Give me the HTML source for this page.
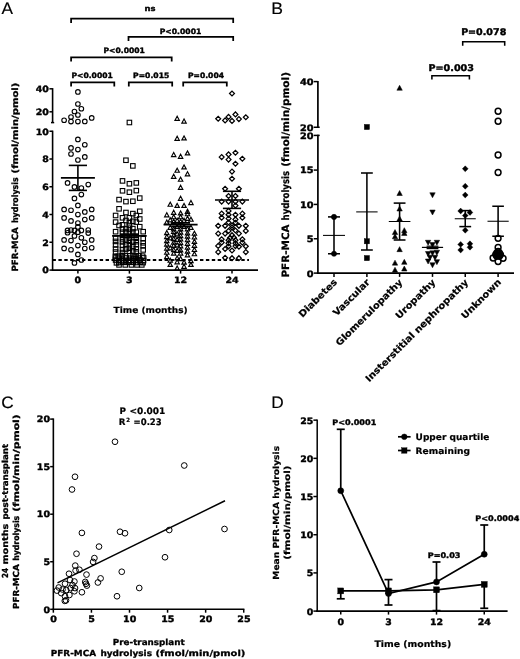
<!DOCTYPE html>
<html lang="en">
<head>
<meta charset="utf-8">
<title>PFR-MCA hydrolysis figure</title>
<style>
html,body{margin:0;padding:0;background:#fff;}
body{width:520px;height:659px;overflow:hidden;}
svg{display:block;font-family:"DejaVu Sans", "Liberation Sans", sans-serif;}
svg text{fill:#000;text-rendering:geometricPrecision;}
svg line, svg path, svg circle, svg rect{stroke:#000;}
</style>
</head>
<body>
<svg width="520" height="659" viewBox="0 0 520 659">
<rect x="0" y="0" width="520" height="659" fill="#fff" stroke="none" style="stroke:none"/>
<g id="panelA">
<text transform="translate(1.40 13.50) scale(1.0400 1)" font-size="16.6" text-anchor="start" font-weight="normal" font-family='"Liberation Sans", sans-serif' stroke="#000" stroke-width="0.15" stroke-linejoin="round">A</text>
<path d="M71.1 22.9V18.7H233.2V22.9" stroke-width="1.75" fill="none"/>
<text transform="translate(150.10 11.40) scale(1.1372 1)" font-size="7.4" text-anchor="middle" font-weight="bold" stroke="#000" stroke-width="0.4" stroke-linejoin="round">ns</text>
<path d="M128.5 41.1V36.9H233.2V41.1" stroke-width="1.75" fill="none"/>
<text transform="translate(180.50 33.60) scale(1.0354 1)" font-size="7.4" text-anchor="middle" font-weight="bold" stroke="#000" stroke-width="0.4" stroke-linejoin="round">P&lt;0.0001</text>
<path d="M71.1 61.5V57.3H171.7V61.5" stroke-width="1.75" fill="none"/>
<text transform="translate(124.20 52.80) scale(1.0304 1)" font-size="7.4" text-anchor="middle" font-weight="bold" stroke="#000" stroke-width="0.4" stroke-linejoin="round">P&lt;0.0001</text>
<path d="M71.1 86.5V82.3H114.3V86.5" stroke-width="1.75" fill="none"/>
<text transform="translate(92.10 78.20) scale(1.0304 1)" font-size="7.4" text-anchor="middle" font-weight="bold" stroke="#000" stroke-width="0.4" stroke-linejoin="round">P&lt;0.0001</text>
<path d="M128.8 86.5V82.3H172.2V86.5" stroke-width="1.75" fill="none"/>
<text transform="translate(151.20 78.20) scale(1.0334 1)" font-size="7.4" text-anchor="middle" font-weight="bold" stroke="#000" stroke-width="0.4" stroke-linejoin="round">P=0.015</text>
<path d="M183.2 86.5V82.3H226.8V86.5" stroke-width="1.75" fill="none"/>
<text transform="translate(206.00 78.20) scale(1.0305 1)" font-size="7.4" text-anchor="middle" font-weight="bold" stroke="#000" stroke-width="0.4" stroke-linejoin="round">P=0.004</text>
<line x1="52.60" y1="88.10" x2="52.60" y2="123.00" stroke-width="1.6"/>
<line x1="52.60" y1="130.60" x2="52.60" y2="270.90" stroke-width="1.6"/>
<line x1="49.40" y1="88.80" x2="52.60" y2="88.80" stroke-width="1.5"/>
<line x1="49.40" y1="111.80" x2="52.60" y2="111.80" stroke-width="1.5"/>
<line x1="51.00" y1="122.60" x2="54.20" y2="122.60" stroke-width="1.5"/>
<line x1="49.40" y1="270.10" x2="52.60" y2="270.10" stroke-width="1.5"/>
<line x1="49.40" y1="242.25" x2="52.60" y2="242.25" stroke-width="1.5"/>
<line x1="49.40" y1="214.50" x2="52.60" y2="214.50" stroke-width="1.5"/>
<line x1="49.40" y1="186.75" x2="52.60" y2="186.75" stroke-width="1.5"/>
<line x1="49.40" y1="159.00" x2="52.60" y2="159.00" stroke-width="1.5"/>
<line x1="49.40" y1="131.25" x2="52.60" y2="131.25" stroke-width="1.5"/>
<line x1="51.80" y1="270.10" x2="258.00" y2="270.10" stroke-width="1.6"/>
<line x1="77.90" y1="270.10" x2="77.90" y2="273.60" stroke-width="1.5"/>
<line x1="129.40" y1="270.10" x2="129.40" y2="273.60" stroke-width="1.5"/>
<line x1="180.60" y1="270.10" x2="180.60" y2="273.60" stroke-width="1.5"/>
<line x1="232.00" y1="270.10" x2="232.00" y2="273.60" stroke-width="1.5"/>
<text transform="translate(48.90 92.20) scale(1.0900 1)" font-size="8.7" text-anchor="end" font-weight="bold" stroke="#000" stroke-width="0.4" stroke-linejoin="round">40</text>
<text transform="translate(48.90 115.20) scale(1.0900 1)" font-size="8.7" text-anchor="end" font-weight="bold" stroke="#000" stroke-width="0.4" stroke-linejoin="round">20</text>
<text transform="translate(48.90 273.40) scale(1.0900 1)" font-size="8.7" text-anchor="end" font-weight="bold" stroke="#000" stroke-width="0.4" stroke-linejoin="round">0</text>
<text transform="translate(48.90 245.65) scale(1.0900 1)" font-size="8.7" text-anchor="end" font-weight="bold" stroke="#000" stroke-width="0.4" stroke-linejoin="round">2</text>
<text transform="translate(48.90 217.90) scale(1.0900 1)" font-size="8.7" text-anchor="end" font-weight="bold" stroke="#000" stroke-width="0.4" stroke-linejoin="round">4</text>
<text transform="translate(48.90 190.15) scale(1.0900 1)" font-size="8.7" text-anchor="end" font-weight="bold" stroke="#000" stroke-width="0.4" stroke-linejoin="round">6</text>
<text transform="translate(48.90 162.40) scale(1.0900 1)" font-size="8.7" text-anchor="end" font-weight="bold" stroke="#000" stroke-width="0.4" stroke-linejoin="round">8</text>
<text transform="translate(48.90 134.65) scale(1.0900 1)" font-size="8.7" text-anchor="end" font-weight="bold" stroke="#000" stroke-width="0.4" stroke-linejoin="round">10</text>
<text transform="translate(77.90 282.70) scale(1.0900 1)" font-size="8.7" text-anchor="middle" font-weight="bold" stroke="#000" stroke-width="0.4" stroke-linejoin="round">0</text>
<text transform="translate(129.40 282.70) scale(1.0900 1)" font-size="8.7" text-anchor="middle" font-weight="bold" stroke="#000" stroke-width="0.4" stroke-linejoin="round">3</text>
<text transform="translate(180.60 282.70) scale(1.0900 1)" font-size="8.7" text-anchor="middle" font-weight="bold" stroke="#000" stroke-width="0.4" stroke-linejoin="round">12</text>
<text transform="translate(232.00 282.70) scale(1.0900 1)" font-size="8.7" text-anchor="middle" font-weight="bold" stroke="#000" stroke-width="0.4" stroke-linejoin="round">24</text>
<text transform="translate(150.60 312.80) scale(1.0479 1)" font-size="8.6" text-anchor="middle" font-weight="bold" stroke="#000" stroke-width="0.2" stroke-linejoin="round">Time (months)</text>
<text transform="translate(17.60 271.60) rotate(-90)" font-size="8.6" font-weight="bold" text-anchor="start" stroke="#000" stroke-width="0.3" stroke-linejoin="round"><tspan x="0.00" textLength="44.40" lengthAdjust="spacingAndGlyphs">PFR-MCA</tspan> <tspan x="48.60" textLength="45.70" lengthAdjust="spacingAndGlyphs">hydrolysis</tspan> <tspan x="98.20" textLength="90.80" lengthAdjust="spacingAndGlyphs">(fmol/min/pmol)</tspan></text>
<line x1="52.50" y1="260.00" x2="249.00" y2="260.00" stroke-width="1.9" stroke-dasharray="3.4 2.5"/>
<circle cx="77.90" cy="91.90" r="2.3" fill="none" stroke-width="1.1"/>
<circle cx="77.90" cy="104.00" r="2.3" fill="none" stroke-width="1.1"/>
<circle cx="81.35" cy="108.75" r="2.3" fill="none" stroke-width="1.1"/>
<circle cx="74.45" cy="111.50" r="2.3" fill="none" stroke-width="1.1"/>
<circle cx="77.90" cy="115.00" r="2.3" fill="none" stroke-width="1.1"/>
<circle cx="71.00" cy="117.10" r="2.3" fill="none" stroke-width="1.1"/>
<circle cx="91.70" cy="117.90" r="2.3" fill="none" stroke-width="1.1"/>
<circle cx="64.10" cy="120.25" r="2.3" fill="none" stroke-width="1.1"/>
<circle cx="71.00" cy="121.60" r="2.3" fill="none" stroke-width="1.1"/>
<circle cx="77.90" cy="121.60" r="2.3" fill="none" stroke-width="1.1"/>
<circle cx="84.80" cy="121.40" r="2.3" fill="none" stroke-width="1.1"/>
<circle cx="77.90" cy="139.40" r="2.3" fill="none" stroke-width="1.1"/>
<circle cx="84.80" cy="144.75" r="2.3" fill="none" stroke-width="1.1"/>
<circle cx="71.00" cy="147.90" r="2.3" fill="none" stroke-width="1.1"/>
<circle cx="77.90" cy="149.60" r="2.3" fill="none" stroke-width="1.1"/>
<circle cx="71.00" cy="154.00" r="2.3" fill="none" stroke-width="1.1"/>
<circle cx="84.80" cy="156.90" r="2.3" fill="none" stroke-width="1.1"/>
<circle cx="77.90" cy="160.00" r="2.3" fill="none" stroke-width="1.1"/>
<circle cx="67.55" cy="182.90" r="2.3" fill="none" stroke-width="1.1"/>
<circle cx="88.25" cy="184.60" r="2.3" fill="none" stroke-width="1.1"/>
<circle cx="74.45" cy="186.90" r="2.3" fill="none" stroke-width="1.1"/>
<circle cx="81.35" cy="188.10" r="2.3" fill="none" stroke-width="1.1"/>
<circle cx="81.35" cy="194.60" r="2.3" fill="none" stroke-width="1.1"/>
<circle cx="74.45" cy="198.40" r="2.3" fill="none" stroke-width="1.1"/>
<circle cx="77.90" cy="205.40" r="2.3" fill="none" stroke-width="1.1"/>
<circle cx="64.10" cy="209.40" r="2.3" fill="none" stroke-width="1.1"/>
<circle cx="71.00" cy="210.25" r="2.3" fill="none" stroke-width="1.1"/>
<circle cx="84.80" cy="211.90" r="2.3" fill="none" stroke-width="1.1"/>
<circle cx="91.70" cy="209.40" r="2.3" fill="none" stroke-width="1.1"/>
<circle cx="77.90" cy="214.60" r="2.3" fill="none" stroke-width="1.1"/>
<circle cx="64.10" cy="217.90" r="2.3" fill="none" stroke-width="1.1"/>
<circle cx="91.70" cy="217.90" r="2.3" fill="none" stroke-width="1.1"/>
<circle cx="71.00" cy="220.90" r="2.3" fill="none" stroke-width="1.1"/>
<circle cx="84.80" cy="219.60" r="2.3" fill="none" stroke-width="1.1"/>
<circle cx="77.90" cy="223.10" r="2.3" fill="none" stroke-width="1.1"/>
<circle cx="77.90" cy="226.90" r="2.3" fill="none" stroke-width="1.1"/>
<circle cx="67.55" cy="230.40" r="2.3" fill="none" stroke-width="1.1"/>
<circle cx="71.00" cy="230.00" r="2.3" fill="none" stroke-width="1.1"/>
<circle cx="74.45" cy="230.40" r="2.3" fill="none" stroke-width="1.1"/>
<circle cx="81.35" cy="230.40" r="2.3" fill="none" stroke-width="1.1"/>
<circle cx="88.25" cy="230.00" r="2.3" fill="none" stroke-width="1.1"/>
<circle cx="67.55" cy="232.75" r="2.3" fill="none" stroke-width="1.1"/>
<circle cx="77.90" cy="232.25" r="2.3" fill="none" stroke-width="1.1"/>
<circle cx="88.25" cy="233.10" r="2.3" fill="none" stroke-width="1.1"/>
<circle cx="74.45" cy="235.90" r="2.3" fill="none" stroke-width="1.1"/>
<circle cx="81.35" cy="237.80" r="2.3" fill="none" stroke-width="1.1"/>
<circle cx="64.10" cy="239.90" r="2.3" fill="none" stroke-width="1.1"/>
<circle cx="71.00" cy="240.60" r="2.3" fill="none" stroke-width="1.1"/>
<circle cx="91.70" cy="239.90" r="2.3" fill="none" stroke-width="1.1"/>
<circle cx="84.80" cy="242.25" r="2.3" fill="none" stroke-width="1.1"/>
<circle cx="77.90" cy="245.60" r="2.3" fill="none" stroke-width="1.1"/>
<circle cx="64.10" cy="248.40" r="2.3" fill="none" stroke-width="1.1"/>
<circle cx="71.00" cy="249.75" r="2.3" fill="none" stroke-width="1.1"/>
<circle cx="84.80" cy="248.50" r="2.3" fill="none" stroke-width="1.1"/>
<circle cx="91.70" cy="247.75" r="2.3" fill="none" stroke-width="1.1"/>
<circle cx="77.90" cy="254.40" r="2.3" fill="none" stroke-width="1.1"/>
<circle cx="81.35" cy="260.00" r="2.3" fill="none" stroke-width="1.1"/>
<circle cx="74.45" cy="262.90" r="2.3" fill="none" stroke-width="1.1"/>
<line x1="60.90" y1="177.90" x2="94.90" y2="177.90" stroke-width="1.6"/>
<line x1="77.90" y1="165.40" x2="77.90" y2="190.40" stroke-width="1.6"/>
<line x1="68.80" y1="165.40" x2="87.00" y2="165.40" stroke-width="1.6"/>
<line x1="68.80" y1="190.40" x2="87.00" y2="190.40" stroke-width="1.6"/>
<rect x="127.15" y="120.25" width="4.5" height="4.5" fill="none" stroke-width="1.1"/>
<rect x="123.70" y="158.00" width="4.5" height="4.5" fill="none" stroke-width="1.1"/>
<rect x="130.60" y="163.65" width="4.5" height="4.5" fill="none" stroke-width="1.1"/>
<rect x="120.25" y="178.65" width="4.5" height="4.5" fill="none" stroke-width="1.1"/>
<rect x="127.15" y="181.50" width="4.5" height="4.5" fill="none" stroke-width="1.1"/>
<rect x="134.05" y="180.65" width="4.5" height="4.5" fill="none" stroke-width="1.1"/>
<rect x="120.25" y="188.55" width="4.5" height="4.5" fill="none" stroke-width="1.1"/>
<rect x="127.15" y="189.95" width="4.5" height="4.5" fill="none" stroke-width="1.1"/>
<rect x="134.05" y="188.35" width="4.5" height="4.5" fill="none" stroke-width="1.1"/>
<rect x="116.80" y="197.35" width="4.5" height="4.5" fill="none" stroke-width="1.1"/>
<rect x="123.70" y="199.35" width="4.5" height="4.5" fill="none" stroke-width="1.1"/>
<rect x="130.60" y="199.00" width="4.5" height="4.5" fill="none" stroke-width="1.1"/>
<rect x="137.50" y="195.85" width="4.5" height="4.5" fill="none" stroke-width="1.1"/>
<rect x="116.80" y="206.55" width="4.5" height="4.5" fill="none" stroke-width="1.1"/>
<rect x="123.70" y="210.25" width="4.5" height="4.5" fill="none" stroke-width="1.1"/>
<rect x="130.60" y="211.35" width="4.5" height="4.5" fill="none" stroke-width="1.1"/>
<rect x="137.50" y="209.05" width="4.5" height="4.5" fill="none" stroke-width="1.1"/>
<rect x="113.35" y="213.25" width="4.5" height="4.5" fill="none" stroke-width="1.1"/>
<rect x="120.25" y="215.55" width="4.5" height="4.5" fill="none" stroke-width="1.1"/>
<rect x="127.15" y="215.55" width="4.5" height="4.5" fill="none" stroke-width="1.1"/>
<rect x="134.05" y="213.25" width="4.5" height="4.5" fill="none" stroke-width="1.1"/>
<rect x="137.50" y="216.75" width="4.5" height="4.5" fill="none" stroke-width="1.1"/>
<rect x="113.35" y="219.85" width="4.5" height="4.5" fill="none" stroke-width="1.1"/>
<rect x="123.70" y="218.25" width="4.5" height="4.5" fill="none" stroke-width="1.1"/>
<rect x="127.15" y="220.55" width="4.5" height="4.5" fill="none" stroke-width="1.1"/>
<rect x="130.60" y="219.05" width="4.5" height="4.5" fill="none" stroke-width="1.1"/>
<rect x="134.05" y="219.85" width="4.5" height="4.5" fill="none" stroke-width="1.1"/>
<rect x="116.80" y="223.25" width="4.5" height="4.5" fill="none" stroke-width="1.1"/>
<rect x="120.25" y="222.55" width="4.5" height="4.5" fill="none" stroke-width="1.1"/>
<rect x="127.15" y="223.25" width="4.5" height="4.5" fill="none" stroke-width="1.1"/>
<rect x="137.50" y="224.45" width="4.5" height="4.5" fill="none" stroke-width="1.1"/>
<rect x="120.25" y="226.75" width="4.5" height="4.5" fill="none" stroke-width="1.1"/>
<rect x="123.70" y="226.35" width="4.5" height="4.5" fill="none" stroke-width="1.1"/>
<rect x="127.15" y="227.15" width="4.5" height="4.5" fill="none" stroke-width="1.1"/>
<rect x="130.60" y="226.35" width="4.5" height="4.5" fill="none" stroke-width="1.1"/>
<rect x="113.35" y="229.45" width="4.5" height="4.5" fill="none" stroke-width="1.1"/>
<rect x="140.95" y="229.45" width="4.5" height="4.5" fill="none" stroke-width="1.1"/>
<rect x="120.25" y="229.95" width="4.5" height="4.5" fill="none" stroke-width="1.1"/>
<rect x="123.70" y="229.75" width="4.5" height="4.5" fill="none" stroke-width="1.1"/>
<rect x="127.15" y="230.05" width="4.5" height="4.5" fill="none" stroke-width="1.1"/>
<rect x="130.60" y="229.75" width="4.5" height="4.5" fill="none" stroke-width="1.1"/>
<rect x="134.05" y="229.95" width="4.5" height="4.5" fill="none" stroke-width="1.1"/>
<rect x="113.35" y="236.17" width="4.5" height="4.5" fill="none" stroke-width="1.1"/>
<rect x="113.35" y="239.17" width="4.5" height="4.5" fill="none" stroke-width="1.1"/>
<rect x="113.35" y="242.67" width="4.5" height="4.5" fill="none" stroke-width="1.1"/>
<rect x="113.35" y="246.77" width="4.5" height="4.5" fill="none" stroke-width="1.1"/>
<rect x="113.35" y="249.77" width="4.5" height="4.5" fill="none" stroke-width="1.1"/>
<rect x="120.25" y="236.67" width="4.5" height="4.5" fill="none" stroke-width="1.1"/>
<rect x="120.25" y="239.67" width="4.5" height="4.5" fill="none" stroke-width="1.1"/>
<rect x="120.25" y="243.17" width="4.5" height="4.5" fill="none" stroke-width="1.1"/>
<rect x="120.25" y="247.27" width="4.5" height="4.5" fill="none" stroke-width="1.1"/>
<rect x="120.25" y="250.27" width="4.5" height="4.5" fill="none" stroke-width="1.1"/>
<rect x="127.15" y="236.06" width="4.5" height="4.5" fill="none" stroke-width="1.1"/>
<rect x="127.15" y="239.06" width="4.5" height="4.5" fill="none" stroke-width="1.1"/>
<rect x="127.15" y="242.56" width="4.5" height="4.5" fill="none" stroke-width="1.1"/>
<rect x="127.15" y="246.06" width="4.5" height="4.5" fill="none" stroke-width="1.1"/>
<rect x="127.15" y="249.06" width="4.5" height="4.5" fill="none" stroke-width="1.1"/>
<rect x="134.05" y="235.94" width="4.5" height="4.5" fill="none" stroke-width="1.1"/>
<rect x="134.05" y="239.44" width="4.5" height="4.5" fill="none" stroke-width="1.1"/>
<rect x="134.05" y="242.44" width="4.5" height="4.5" fill="none" stroke-width="1.1"/>
<rect x="134.05" y="246.54" width="4.5" height="4.5" fill="none" stroke-width="1.1"/>
<rect x="134.05" y="249.54" width="4.5" height="4.5" fill="none" stroke-width="1.1"/>
<rect x="140.95" y="236.48" width="4.5" height="4.5" fill="none" stroke-width="1.1"/>
<rect x="140.95" y="240.58" width="4.5" height="4.5" fill="none" stroke-width="1.1"/>
<rect x="140.95" y="243.58" width="4.5" height="4.5" fill="none" stroke-width="1.1"/>
<rect x="140.95" y="247.68" width="4.5" height="4.5" fill="none" stroke-width="1.1"/>
<rect x="123.70" y="237.75" width="4.5" height="4.5" fill="none" stroke-width="1.1"/>
<rect x="130.60" y="239.75" width="4.5" height="4.5" fill="none" stroke-width="1.1"/>
<rect x="123.70" y="242.25" width="4.5" height="4.5" fill="none" stroke-width="1.1"/>
<rect x="130.60" y="244.25" width="4.5" height="4.5" fill="none" stroke-width="1.1"/>
<rect x="123.70" y="246.75" width="4.5" height="4.5" fill="none" stroke-width="1.1"/>
<rect x="130.60" y="248.75" width="4.5" height="4.5" fill="none" stroke-width="1.1"/>
<rect x="113.17" y="254.13" width="4.5" height="4.5" fill="none" stroke-width="1.1"/>
<rect x="116.02" y="254.04" width="4.5" height="4.5" fill="none" stroke-width="1.1"/>
<rect x="119.89" y="253.47" width="4.5" height="4.5" fill="none" stroke-width="1.1"/>
<rect x="123.04" y="253.60" width="4.5" height="4.5" fill="none" stroke-width="1.1"/>
<rect x="127.70" y="253.49" width="4.5" height="4.5" fill="none" stroke-width="1.1"/>
<rect x="130.74" y="253.86" width="4.5" height="4.5" fill="none" stroke-width="1.1"/>
<rect x="133.83" y="253.79" width="4.5" height="4.5" fill="none" stroke-width="1.1"/>
<rect x="136.75" y="253.40" width="4.5" height="4.5" fill="none" stroke-width="1.1"/>
<rect x="140.44" y="253.89" width="4.5" height="4.5" fill="none" stroke-width="1.1"/>
<rect x="113.23" y="255.80" width="4.5" height="4.5" fill="none" stroke-width="1.1"/>
<rect x="116.95" y="255.91" width="4.5" height="4.5" fill="none" stroke-width="1.1"/>
<rect x="119.90" y="256.19" width="4.5" height="4.5" fill="none" stroke-width="1.1"/>
<rect x="124.04" y="255.75" width="4.5" height="4.5" fill="none" stroke-width="1.1"/>
<rect x="127.28" y="255.97" width="4.5" height="4.5" fill="none" stroke-width="1.1"/>
<rect x="131.25" y="256.13" width="4.5" height="4.5" fill="none" stroke-width="1.1"/>
<rect x="133.68" y="256.33" width="4.5" height="4.5" fill="none" stroke-width="1.1"/>
<rect x="136.84" y="255.88" width="4.5" height="4.5" fill="none" stroke-width="1.1"/>
<rect x="141.39" y="255.67" width="4.5" height="4.5" fill="none" stroke-width="1.1"/>
<rect x="113.33" y="257.78" width="4.5" height="4.5" fill="none" stroke-width="1.1"/>
<rect x="117.09" y="258.36" width="4.5" height="4.5" fill="none" stroke-width="1.1"/>
<rect x="120.38" y="258.45" width="4.5" height="4.5" fill="none" stroke-width="1.1"/>
<rect x="123.38" y="258.31" width="4.5" height="4.5" fill="none" stroke-width="1.1"/>
<rect x="127.31" y="258.21" width="4.5" height="4.5" fill="none" stroke-width="1.1"/>
<rect x="130.52" y="258.42" width="4.5" height="4.5" fill="none" stroke-width="1.1"/>
<rect x="134.82" y="258.13" width="4.5" height="4.5" fill="none" stroke-width="1.1"/>
<rect x="137.78" y="257.80" width="4.5" height="4.5" fill="none" stroke-width="1.1"/>
<rect x="141.30" y="258.27" width="4.5" height="4.5" fill="none" stroke-width="1.1"/>
<rect x="114.20" y="260.61" width="4.5" height="4.5" fill="none" stroke-width="1.1"/>
<rect x="116.43" y="260.26" width="4.5" height="4.5" fill="none" stroke-width="1.1"/>
<rect x="120.54" y="259.97" width="4.5" height="4.5" fill="none" stroke-width="1.1"/>
<rect x="123.63" y="260.08" width="4.5" height="4.5" fill="none" stroke-width="1.1"/>
<rect x="126.49" y="260.00" width="4.5" height="4.5" fill="none" stroke-width="1.1"/>
<rect x="131.06" y="260.05" width="4.5" height="4.5" fill="none" stroke-width="1.1"/>
<rect x="133.61" y="260.26" width="4.5" height="4.5" fill="none" stroke-width="1.1"/>
<rect x="138.14" y="260.01" width="4.5" height="4.5" fill="none" stroke-width="1.1"/>
<rect x="140.86" y="260.39" width="4.5" height="4.5" fill="none" stroke-width="1.1"/>
<rect x="116.80" y="262.65" width="4.5" height="4.5" fill="none" stroke-width="1.1"/>
<rect x="123.01" y="262.65" width="4.5" height="4.5" fill="none" stroke-width="1.1"/>
<rect x="129.22" y="262.65" width="4.5" height="4.5" fill="none" stroke-width="1.1"/>
<rect x="134.74" y="262.65" width="4.5" height="4.5" fill="none" stroke-width="1.1"/>
<rect x="139.57" y="262.65" width="4.5" height="4.5" fill="none" stroke-width="1.1"/>
<line x1="112.10" y1="235.80" x2="146.70" y2="235.80" stroke-width="1.8"/>
<line x1="129.40" y1="234.20" x2="129.40" y2="237.40" stroke-width="1.8"/>
<line x1="119.80" y1="234.20" x2="139.00" y2="234.20" stroke-width="1.8"/>
<line x1="119.80" y1="237.40" x2="139.00" y2="237.40" stroke-width="1.8"/>
<path d="M174.95 120.33H179.35L177.15 116.26Z" fill="none" stroke-width="1.15"/>
<path d="M181.85 123.08H186.25L184.05 119.01Z" fill="none" stroke-width="1.15"/>
<path d="M174.95 140.33H179.35L177.15 136.26Z" fill="none" stroke-width="1.15"/>
<path d="M181.85 139.93H186.25L184.05 135.86Z" fill="none" stroke-width="1.15"/>
<path d="M171.50 156.58H175.90L173.70 152.51Z" fill="none" stroke-width="1.15"/>
<path d="M178.40 158.33H182.80L180.60 154.26Z" fill="none" stroke-width="1.15"/>
<path d="M185.30 154.93H189.70L187.50 150.86Z" fill="none" stroke-width="1.15"/>
<path d="M181.85 168.93H186.25L184.05 164.86Z" fill="none" stroke-width="1.15"/>
<path d="M174.95 172.23H179.35L177.15 168.16Z" fill="none" stroke-width="1.15"/>
<path d="M185.30 175.83H189.70L187.50 171.76Z" fill="none" stroke-width="1.15"/>
<path d="M171.50 178.33H175.90L173.70 174.26Z" fill="none" stroke-width="1.15"/>
<path d="M178.40 181.23H182.80L180.60 177.16Z" fill="none" stroke-width="1.15"/>
<path d="M178.40 189.33H182.80L180.60 185.26Z" fill="none" stroke-width="1.15"/>
<path d="M178.40 200.33H182.80L180.60 196.26Z" fill="none" stroke-width="1.15"/>
<path d="M188.75 204.58H193.15L190.95 200.51Z" fill="none" stroke-width="1.15"/>
<path d="M168.05 206.23H172.45L170.25 202.16Z" fill="none" stroke-width="1.15"/>
<path d="M174.95 207.43H179.35L177.15 203.36Z" fill="none" stroke-width="1.15"/>
<path d="M181.85 207.43H186.25L184.05 203.36Z" fill="none" stroke-width="1.15"/>
<path d="M171.50 214.33H175.90L173.70 210.26Z" fill="none" stroke-width="1.15"/>
<path d="M178.40 214.93H182.80L180.60 210.86Z" fill="none" stroke-width="1.15"/>
<path d="M185.30 213.33H189.70L187.50 209.26Z" fill="none" stroke-width="1.15"/>
<path d="M185.30 215.73H189.70L187.50 211.66Z" fill="none" stroke-width="1.15"/>
<path d="M164.60 216.83H169.00L166.80 212.76Z" fill="none" stroke-width="1.15"/>
<path d="M171.50 218.73H175.90L173.70 214.66Z" fill="none" stroke-width="1.15"/>
<path d="M178.40 218.73H182.80L180.60 214.66Z" fill="none" stroke-width="1.15"/>
<path d="M188.75 221.23H193.15L190.95 217.16Z" fill="none" stroke-width="1.15"/>
<path d="M164.60 224.08H169.00L166.80 220.01Z" fill="none" stroke-width="1.15"/>
<path d="M168.05 221.83H172.45L170.25 217.76Z" fill="none" stroke-width="1.15"/>
<path d="M174.95 222.33H179.35L177.15 218.26Z" fill="none" stroke-width="1.15"/>
<path d="M181.85 222.33H186.25L184.05 218.26Z" fill="none" stroke-width="1.15"/>
<path d="M185.30 220.33H189.70L187.50 216.26Z" fill="none" stroke-width="1.15"/>
<path d="M171.50 223.33H175.90L173.70 219.26Z" fill="none" stroke-width="1.15"/>
<path d="M178.40 223.33H182.80L180.60 219.26Z" fill="none" stroke-width="1.15"/>
<path d="M174.95 228.33H179.35L177.15 224.26Z" fill="none" stroke-width="1.15"/>
<path d="M181.85 228.33H186.25L184.05 224.26Z" fill="none" stroke-width="1.15"/>
<path d="M188.75 229.33H193.15L190.95 225.26Z" fill="none" stroke-width="1.15"/>
<path d="M168.05 229.33H172.45L170.25 225.26Z" fill="none" stroke-width="1.15"/>
<path d="M171.50 230.83H175.90L173.70 226.76Z" fill="none" stroke-width="1.15"/>
<path d="M178.40 230.83H182.80L180.60 226.76Z" fill="none" stroke-width="1.15"/>
<path d="M185.30 230.83H189.70L187.50 226.76Z" fill="none" stroke-width="1.15"/>
<path d="M164.60 234.64H169.00L166.80 230.57Z" fill="none" stroke-width="1.15"/>
<path d="M164.60 238.59H169.00L166.80 234.52Z" fill="none" stroke-width="1.15"/>
<path d="M164.60 242.62H169.00L166.80 238.55Z" fill="none" stroke-width="1.15"/>
<path d="M164.60 246.15H169.00L166.80 242.08Z" fill="none" stroke-width="1.15"/>
<path d="M164.60 250.26H169.00L166.80 246.19Z" fill="none" stroke-width="1.15"/>
<path d="M164.60 254.22H169.00L166.80 250.15Z" fill="none" stroke-width="1.15"/>
<path d="M164.60 258.64H169.00L166.80 254.57Z" fill="none" stroke-width="1.15"/>
<path d="M185.30 235.00H189.70L187.50 230.93Z" fill="none" stroke-width="1.15"/>
<path d="M185.30 238.05H189.70L187.50 233.98Z" fill="none" stroke-width="1.15"/>
<path d="M185.30 241.77H189.70L187.50 237.70Z" fill="none" stroke-width="1.15"/>
<path d="M185.30 245.52H189.70L187.50 241.45Z" fill="none" stroke-width="1.15"/>
<path d="M185.30 249.22H189.70L187.50 245.15Z" fill="none" stroke-width="1.15"/>
<path d="M185.30 253.12H189.70L187.50 249.05Z" fill="none" stroke-width="1.15"/>
<path d="M185.30 256.90H189.70L187.50 252.83Z" fill="none" stroke-width="1.15"/>
<path d="M192.20 235.24H196.60L194.40 231.17Z" fill="none" stroke-width="1.15"/>
<path d="M192.20 239.03H196.60L194.40 234.96Z" fill="none" stroke-width="1.15"/>
<path d="M192.20 243.37H196.60L194.40 239.30Z" fill="none" stroke-width="1.15"/>
<path d="M192.20 247.33H196.60L194.40 243.26Z" fill="none" stroke-width="1.15"/>
<path d="M192.20 251.48H196.60L194.40 247.41Z" fill="none" stroke-width="1.15"/>
<path d="M192.20 255.79H196.60L194.40 251.72Z" fill="none" stroke-width="1.15"/>
<path d="M171.50 233.48H175.90L173.70 229.41Z" fill="none" stroke-width="1.15"/>
<path d="M171.50 236.94H175.90L173.70 232.87Z" fill="none" stroke-width="1.15"/>
<path d="M171.50 240.63H175.90L173.70 236.56Z" fill="none" stroke-width="1.15"/>
<path d="M171.50 244.27H175.90L173.70 240.20Z" fill="none" stroke-width="1.15"/>
<path d="M171.50 247.37H175.90L173.70 243.30Z" fill="none" stroke-width="1.15"/>
<path d="M171.50 251.65H175.90L173.70 247.58Z" fill="none" stroke-width="1.15"/>
<path d="M171.50 255.16H175.90L173.70 251.09Z" fill="none" stroke-width="1.15"/>
<path d="M178.40 234.13H182.80L180.60 230.06Z" fill="none" stroke-width="1.15"/>
<path d="M178.40 237.67H182.80L180.60 233.60Z" fill="none" stroke-width="1.15"/>
<path d="M178.40 240.95H182.80L180.60 236.88Z" fill="none" stroke-width="1.15"/>
<path d="M178.40 244.55H182.80L180.60 240.48Z" fill="none" stroke-width="1.15"/>
<path d="M178.40 247.91H182.80L180.60 243.84Z" fill="none" stroke-width="1.15"/>
<path d="M178.40 251.94H182.80L180.60 247.87Z" fill="none" stroke-width="1.15"/>
<path d="M178.40 255.08H182.80L180.60 251.01Z" fill="none" stroke-width="1.15"/>
<path d="M174.95 235.83H179.35L177.15 231.76Z" fill="none" stroke-width="1.15"/>
<path d="M174.95 241.33H179.35L177.15 237.26Z" fill="none" stroke-width="1.15"/>
<path d="M174.95 246.83H179.35L177.15 242.76Z" fill="none" stroke-width="1.15"/>
<path d="M174.95 252.33H179.35L177.15 248.26Z" fill="none" stroke-width="1.15"/>
<path d="M168.05 239.83H172.45L170.25 235.76Z" fill="none" stroke-width="1.15"/>
<path d="M168.05 249.83H172.45L170.25 245.76Z" fill="none" stroke-width="1.15"/>
<path d="M168.05 262.23H172.45L170.25 258.16Z" fill="none" stroke-width="1.15"/>
<path d="M168.05 266.43H172.45L170.25 262.36Z" fill="none" stroke-width="1.15"/>
<path d="M174.95 260.03H179.35L177.15 255.96Z" fill="none" stroke-width="1.15"/>
<path d="M174.95 263.83H179.35L177.15 259.76Z" fill="none" stroke-width="1.15"/>
<path d="M181.85 264.13H186.25L184.05 260.06Z" fill="none" stroke-width="1.15"/>
<path d="M181.85 268.33H186.25L184.05 264.26Z" fill="none" stroke-width="1.15"/>
<path d="M188.75 262.63H193.15L190.95 258.56Z" fill="none" stroke-width="1.15"/>
<path d="M188.75 266.43H193.15L190.95 262.36Z" fill="none" stroke-width="1.15"/>
<path d="M174.95 270.13H179.35L177.15 266.06Z" fill="none" stroke-width="1.15"/>
<path d="M178.40 260.63H182.80L180.60 256.56Z" fill="none" stroke-width="1.15"/>
<line x1="163.60" y1="224.60" x2="197.60" y2="224.60" stroke-width="1.8"/>
<line x1="180.60" y1="222.90" x2="180.60" y2="226.50" stroke-width="1.8"/>
<line x1="171.20" y1="222.90" x2="190.00" y2="222.90" stroke-width="1.8"/>
<line x1="171.20" y1="226.50" x2="190.00" y2="226.50" stroke-width="1.8"/>
<path d="M229.55 93.50L232.00 91.05L234.45 93.50L232.00 95.95Z" fill="none" stroke-width="1.25"/>
<path d="M233.00 114.40L235.45 111.95L237.90 114.40L235.45 116.85Z" fill="none" stroke-width="1.25"/>
<path d="M226.10 116.90L228.55 114.45L231.00 116.90L228.55 119.35Z" fill="none" stroke-width="1.25"/>
<path d="M243.35 117.25L245.80 114.80L248.25 117.25L245.80 119.70Z" fill="none" stroke-width="1.25"/>
<path d="M215.75 118.75L218.20 116.30L220.65 118.75L218.20 121.20Z" fill="none" stroke-width="1.25"/>
<path d="M236.45 119.10L238.90 116.65L241.35 119.10L238.90 121.55Z" fill="none" stroke-width="1.25"/>
<path d="M222.65 120.40L225.10 117.95L227.55 120.40L225.10 122.85Z" fill="none" stroke-width="1.25"/>
<path d="M229.55 120.90L232.00 118.45L234.45 120.90L232.00 123.35Z" fill="none" stroke-width="1.25"/>
<path d="M233.00 152.75L235.45 150.30L237.90 152.75L235.45 155.20Z" fill="none" stroke-width="1.25"/>
<path d="M226.10 154.40L228.55 151.95L231.00 154.40L228.55 156.85Z" fill="none" stroke-width="1.25"/>
<path d="M219.20 157.10L221.65 154.65L224.10 157.10L221.65 159.55Z" fill="none" stroke-width="1.25"/>
<path d="M226.10 159.60L228.55 157.15L231.00 159.60L228.55 162.05Z" fill="none" stroke-width="1.25"/>
<path d="M239.90 158.75L242.35 156.30L244.80 158.75L242.35 161.20Z" fill="none" stroke-width="1.25"/>
<path d="M233.00 163.75L235.45 161.30L237.90 163.75L235.45 166.20Z" fill="none" stroke-width="1.25"/>
<path d="M229.55 171.60L232.00 169.15L234.45 171.60L232.00 174.05Z" fill="none" stroke-width="1.25"/>
<path d="M229.55 178.75L232.00 176.30L234.45 178.75L232.00 181.20Z" fill="none" stroke-width="1.25"/>
<path d="M222.65 188.75L225.10 186.30L227.55 188.75L225.10 191.20Z" fill="none" stroke-width="1.25"/>
<path d="M236.45 188.75L238.90 186.30L241.35 188.75L238.90 191.20Z" fill="none" stroke-width="1.25"/>
<path d="M226.10 196.00L228.55 193.55L231.00 196.00L228.55 198.45Z" fill="none" stroke-width="1.25"/>
<path d="M233.00 196.00L235.45 193.55L237.90 196.00L235.45 198.45Z" fill="none" stroke-width="1.25"/>
<path d="M219.20 201.60L221.65 199.15L224.10 201.60L221.65 204.05Z" fill="none" stroke-width="1.25"/>
<path d="M226.10 201.60L228.55 199.15L231.00 201.60L228.55 204.05Z" fill="none" stroke-width="1.25"/>
<path d="M233.00 201.60L235.45 199.15L237.90 201.60L235.45 204.05Z" fill="none" stroke-width="1.25"/>
<path d="M239.90 201.60L242.35 199.15L244.80 201.60L242.35 204.05Z" fill="none" stroke-width="1.25"/>
<path d="M233.00 205.60L235.45 203.15L237.90 205.60L235.45 208.05Z" fill="none" stroke-width="1.25"/>
<path d="M226.10 210.90L228.55 208.45L231.00 210.90L228.55 213.35Z" fill="none" stroke-width="1.25"/>
<path d="M226.10 214.80L228.55 212.35L231.00 214.80L228.55 217.25Z" fill="none" stroke-width="1.25"/>
<path d="M226.10 218.60L228.55 216.15L231.00 218.60L228.55 221.05Z" fill="none" stroke-width="1.25"/>
<path d="M226.10 222.50L228.55 220.05L231.00 222.50L228.55 224.95Z" fill="none" stroke-width="1.25"/>
<path d="M219.20 213.60L221.65 211.15L224.10 213.60L221.65 216.05Z" fill="none" stroke-width="1.25"/>
<path d="M219.20 217.70L221.65 215.25L224.10 217.70L221.65 220.15Z" fill="none" stroke-width="1.25"/>
<path d="M233.00 214.80L235.45 212.35L237.90 214.80L235.45 217.25Z" fill="none" stroke-width="1.25"/>
<path d="M233.00 219.40L235.45 216.95L237.90 219.40L235.45 221.85Z" fill="none" stroke-width="1.25"/>
<path d="M233.00 222.80L235.45 220.35L237.90 222.80L235.45 225.25Z" fill="none" stroke-width="1.25"/>
<path d="M239.90 213.60L242.35 211.15L244.80 213.60L242.35 216.05Z" fill="none" stroke-width="1.25"/>
<path d="M239.90 217.70L242.35 215.25L244.80 217.70L242.35 220.15Z" fill="none" stroke-width="1.25"/>
<path d="M215.75 225.80L218.20 223.35L220.65 225.80L218.20 228.25Z" fill="none" stroke-width="1.25"/>
<path d="M222.65 225.80L225.10 223.35L227.55 225.80L225.10 228.25Z" fill="none" stroke-width="1.25"/>
<path d="M229.55 225.60L232.00 223.15L234.45 225.60L232.00 228.05Z" fill="none" stroke-width="1.25"/>
<path d="M236.45 225.80L238.90 223.35L241.35 225.80L238.90 228.25Z" fill="none" stroke-width="1.25"/>
<path d="M243.35 225.80L245.80 223.35L248.25 225.80L245.80 228.25Z" fill="none" stroke-width="1.25"/>
<path d="M229.55 227.60L232.00 225.15L234.45 227.60L232.00 230.05Z" fill="none" stroke-width="1.25"/>
<path d="M226.10 230.90L228.55 228.45L231.00 230.90L228.55 233.35Z" fill="none" stroke-width="1.25"/>
<path d="M233.00 230.50L235.45 228.05L237.90 230.50L235.45 232.95Z" fill="none" stroke-width="1.25"/>
<path d="M243.35 230.90L245.80 228.45L248.25 230.90L245.80 233.35Z" fill="none" stroke-width="1.25"/>
<path d="M215.75 233.60L218.20 231.15L220.65 233.60L218.20 236.05Z" fill="none" stroke-width="1.25"/>
<path d="M222.65 233.60L225.10 231.15L227.55 233.60L225.10 236.05Z" fill="none" stroke-width="1.25"/>
<path d="M236.45 233.60L238.90 231.15L241.35 233.60L238.90 236.05Z" fill="none" stroke-width="1.25"/>
<path d="M229.55 235.20L232.00 232.75L234.45 235.20L232.00 237.65Z" fill="none" stroke-width="1.25"/>
<path d="M227.65 237.80L230.10 235.35L232.55 237.80L230.10 240.25Z" fill="none" stroke-width="1.25"/>
<path d="M231.45 237.50L233.90 235.05L236.35 237.50L233.90 239.95Z" fill="none" stroke-width="1.25"/>
<path d="M219.20 239.30L221.65 236.85L224.10 239.30L221.65 241.75Z" fill="none" stroke-width="1.25"/>
<path d="M219.20 242.60L221.65 240.15L224.10 242.60L221.65 245.05Z" fill="none" stroke-width="1.25"/>
<path d="M239.90 239.30L242.35 236.85L244.80 239.30L242.35 241.75Z" fill="none" stroke-width="1.25"/>
<path d="M239.90 242.60L242.35 240.15L244.80 242.60L242.35 245.05Z" fill="none" stroke-width="1.25"/>
<path d="M226.10 240.20L228.55 237.75L231.00 240.20L228.55 242.65Z" fill="none" stroke-width="1.25"/>
<path d="M226.10 243.20L228.55 240.75L231.00 243.20L228.55 245.65Z" fill="none" stroke-width="1.25"/>
<path d="M226.10 246.30L228.55 243.85L231.00 246.30L228.55 248.75Z" fill="none" stroke-width="1.25"/>
<path d="M233.00 240.20L235.45 237.75L237.90 240.20L235.45 242.65Z" fill="none" stroke-width="1.25"/>
<path d="M233.00 243.20L235.45 240.75L237.90 243.20L235.45 245.65Z" fill="none" stroke-width="1.25"/>
<path d="M233.00 246.10L235.45 243.65L237.90 246.10L235.45 248.55Z" fill="none" stroke-width="1.25"/>
<path d="M215.75 245.90L218.20 243.45L220.65 245.90L218.20 248.35Z" fill="none" stroke-width="1.25"/>
<path d="M243.35 246.30L245.80 243.85L248.25 246.30L245.80 248.75Z" fill="none" stroke-width="1.25"/>
<path d="M222.65 249.00L225.10 246.55L227.55 249.00L225.10 251.45Z" fill="none" stroke-width="1.25"/>
<path d="M236.45 246.70L238.90 244.25L241.35 246.70L238.90 249.15Z" fill="none" stroke-width="1.25"/>
<path d="M229.55 250.50L232.00 248.05L234.45 250.50L232.00 252.95Z" fill="none" stroke-width="1.25"/>
<path d="M215.75 252.10L218.20 249.65L220.65 252.10L218.20 254.55Z" fill="none" stroke-width="1.25"/>
<path d="M243.35 252.10L245.80 249.65L248.25 252.10L245.80 254.55Z" fill="none" stroke-width="1.25"/>
<path d="M222.65 257.80L225.10 255.35L227.55 257.80L225.10 260.25Z" fill="none" stroke-width="1.25"/>
<path d="M229.55 258.20L232.00 255.75L234.45 258.20L232.00 260.65Z" fill="none" stroke-width="1.25"/>
<path d="M236.45 258.20L238.90 255.75L241.35 258.20L238.90 260.65Z" fill="none" stroke-width="1.25"/>
<line x1="215.00" y1="200.00" x2="249.00" y2="200.00" stroke-width="1.6"/>
<line x1="232.00" y1="191.30" x2="232.00" y2="208.40" stroke-width="1.6"/>
<line x1="222.90" y1="191.30" x2="241.10" y2="191.30" stroke-width="1.6"/>
<line x1="222.90" y1="208.40" x2="241.10" y2="208.40" stroke-width="1.6"/>
</g>
<g id="panelB">
<text transform="translate(271.30 13.70) scale(1.0600 1)" font-size="16.6" text-anchor="start" font-weight="normal" font-family='"Liberation Sans", sans-serif' stroke="#000" stroke-width="0.15" stroke-linejoin="round">B</text>
<path d="M462.7 45.7V41.7H504.7V45.7" stroke-width="1.55" fill="none"/>
<text transform="translate(483.70 35.20) scale(1.0379 1)" font-size="9.2" text-anchor="middle" font-weight="bold" stroke="#000" stroke-width="0.4" stroke-linejoin="round">P=0.078</text>
<path d="M431.9 79.6V75.8H469.4V79.6" stroke-width="1.55" fill="none"/>
<text transform="translate(451.20 70.80) scale(1.0470 1)" font-size="9.2" text-anchor="middle" font-weight="bold" stroke="#000" stroke-width="0.4" stroke-linejoin="round">P=0.003</text>
<line x1="317.90" y1="81.00" x2="317.90" y2="127.90" stroke-width="1.7"/>
<line x1="317.90" y1="134.80" x2="317.90" y2="273.20" stroke-width="1.7"/>
<line x1="313.70" y1="81.60" x2="317.70" y2="81.60" stroke-width="1.5"/>
<line x1="313.70" y1="127.25" x2="319.70" y2="127.25" stroke-width="1.5"/>
<line x1="313.70" y1="135.40" x2="319.70" y2="135.40" stroke-width="1.5"/>
<line x1="313.70" y1="273.10" x2="317.70" y2="273.10" stroke-width="1.5"/>
<line x1="313.70" y1="238.76" x2="317.70" y2="238.76" stroke-width="1.5"/>
<line x1="313.70" y1="204.42" x2="317.70" y2="204.42" stroke-width="1.5"/>
<line x1="313.70" y1="170.08" x2="317.70" y2="170.08" stroke-width="1.5"/>
<line x1="316.90" y1="273.20" x2="514.00" y2="273.20" stroke-width="1.7"/>
<line x1="334.00" y1="273.20" x2="334.00" y2="276.90" stroke-width="1.5"/>
<line x1="366.90" y1="273.20" x2="366.90" y2="276.90" stroke-width="1.5"/>
<line x1="399.60" y1="273.20" x2="399.60" y2="276.90" stroke-width="1.5"/>
<line x1="432.50" y1="273.20" x2="432.50" y2="276.90" stroke-width="1.5"/>
<line x1="465.25" y1="273.20" x2="465.25" y2="276.90" stroke-width="1.5"/>
<line x1="498.10" y1="273.20" x2="498.10" y2="276.90" stroke-width="1.5"/>
<text transform="translate(313.60 84.90) scale(1.1000 1)" font-size="8.9" text-anchor="end" font-weight="bold" stroke="#000" stroke-width="0.4" stroke-linejoin="round">40</text>
<text transform="translate(313.60 130.55) scale(1.1000 1)" font-size="8.9" text-anchor="end" font-weight="bold" stroke="#000" stroke-width="0.4" stroke-linejoin="round">20</text>
<text transform="translate(313.60 138.70) scale(1.1000 1)" font-size="8.9" text-anchor="end" font-weight="bold" stroke="#000" stroke-width="0.4" stroke-linejoin="round">20</text>
<text transform="translate(313.60 276.50) scale(1.1000 1)" font-size="8.9" text-anchor="end" font-weight="bold" stroke="#000" stroke-width="0.4" stroke-linejoin="round">0</text>
<text transform="translate(313.60 242.16) scale(1.1000 1)" font-size="8.9" text-anchor="end" font-weight="bold" stroke="#000" stroke-width="0.4" stroke-linejoin="round">5</text>
<text transform="translate(313.60 207.82) scale(1.1000 1)" font-size="8.9" text-anchor="end" font-weight="bold" stroke="#000" stroke-width="0.4" stroke-linejoin="round">10</text>
<text transform="translate(313.60 173.48) scale(1.1000 1)" font-size="8.9" text-anchor="end" font-weight="bold" stroke="#000" stroke-width="0.4" stroke-linejoin="round">15</text>
<text transform="translate(289.10 277.50) rotate(-90)" font-size="10.1" font-weight="bold" text-anchor="start" stroke="#000" stroke-width="0.25" stroke-linejoin="round"><tspan x="0.00" textLength="53.10" lengthAdjust="spacingAndGlyphs">PFR-MCA</tspan> <tspan x="57.10" textLength="49.40" lengthAdjust="spacingAndGlyphs">hydrolysis</tspan> <tspan x="110.70" textLength="94.80" lengthAdjust="spacingAndGlyphs">(fmol/min/pmol)</tspan></text>
<text transform="translate(337.60 282.80) rotate(-45) scale(1.0700 1)" font-size="9.3" text-anchor="end" font-weight="bold" stroke="#000" stroke-width="0.2" stroke-linejoin="round">Diabetes</text>
<text transform="translate(370.50 282.80) rotate(-45) scale(1.0700 1)" font-size="9.3" text-anchor="end" font-weight="bold" stroke="#000" stroke-width="0.2" stroke-linejoin="round">Vascular</text>
<text transform="translate(403.20 282.80) rotate(-45) scale(1.0700 1)" font-size="9.3" text-anchor="end" font-weight="bold" stroke="#000" stroke-width="0.2" stroke-linejoin="round">Glomerulopathy</text>
<text transform="translate(436.10 282.80) rotate(-45) scale(1.0700 1)" font-size="9.3" text-anchor="end" font-weight="bold" stroke="#000" stroke-width="0.2" stroke-linejoin="round">Uropathy</text>
<text transform="translate(468.85 282.80) rotate(-45) scale(1.0700 1)" font-size="9.3" text-anchor="end" font-weight="bold" stroke="#000" stroke-width="0.2" stroke-linejoin="round">Insterstitial nephropathy</text>
<text transform="translate(501.70 282.80) rotate(-45) scale(1.0700 1)" font-size="9.3" text-anchor="end" font-weight="bold" stroke="#000" stroke-width="0.2" stroke-linejoin="round">Unknown</text>
<line x1="323.00" y1="235.40" x2="345.00" y2="235.40" stroke-width="1.05"/>
<line x1="334.00" y1="216.90" x2="334.00" y2="253.75" stroke-width="1.55"/>
<line x1="328.00" y1="216.90" x2="340.00" y2="216.90" stroke-width="1.55"/>
<line x1="328.00" y1="253.75" x2="340.00" y2="253.75" stroke-width="1.55"/>
<circle cx="334.00" cy="216.90" r="2.6" fill="#000" stroke-width="0.6"/>
<circle cx="334.00" cy="253.75" r="2.6" fill="#000" stroke-width="0.6"/>
<line x1="356.20" y1="211.90" x2="377.60" y2="211.90" stroke-width="1.05"/>
<line x1="366.90" y1="173.00" x2="366.90" y2="250.00" stroke-width="1.55"/>
<line x1="361.00" y1="173.00" x2="372.80" y2="173.00" stroke-width="1.55"/>
<line x1="361.00" y1="250.00" x2="372.80" y2="250.00" stroke-width="1.55"/>
<rect x="364.30" y="124.40" width="5.2" height="5.2" fill="#000" stroke-width="0.4"/>
<rect x="364.30" y="238.65" width="5.2" height="5.2" fill="#000" stroke-width="0.4"/>
<rect x="364.30" y="255.50" width="5.2" height="5.2" fill="#000" stroke-width="0.4"/>
<line x1="388.80" y1="221.50" x2="410.40" y2="221.50" stroke-width="1.05"/>
<line x1="399.60" y1="203.10" x2="399.60" y2="240.00" stroke-width="1.55"/>
<line x1="393.70" y1="203.10" x2="405.50" y2="203.10" stroke-width="1.55"/>
<line x1="393.70" y1="240.00" x2="405.50" y2="240.00" stroke-width="1.55"/>
<path d="M396.90 90.25H402.30L399.60 85.25Z" fill="#000" stroke-width="0.5"/>
<path d="M396.90 195.50H402.30L399.60 190.50Z" fill="#000" stroke-width="0.5"/>
<path d="M396.90 211.00H402.30L399.60 206.00Z" fill="#000" stroke-width="0.5"/>
<path d="M396.90 221.00H402.30L399.60 216.00Z" fill="#000" stroke-width="0.5"/>
<path d="M392.30 234.50H397.70L395.00 229.50Z" fill="#000" stroke-width="0.5"/>
<path d="M401.60 232.65H407.00L404.30 227.65Z" fill="#000" stroke-width="0.5"/>
<path d="M401.60 235.45H407.00L404.30 230.45Z" fill="#000" stroke-width="0.5"/>
<path d="M392.30 238.75H397.70L395.00 233.75Z" fill="#000" stroke-width="0.5"/>
<path d="M396.90 251.65H402.30L399.60 246.65Z" fill="#000" stroke-width="0.5"/>
<path d="M392.30 265.15H397.70L395.00 260.15Z" fill="#000" stroke-width="0.5"/>
<path d="M401.60 264.35H407.00L404.30 259.35Z" fill="#000" stroke-width="0.5"/>
<path d="M392.30 272.25H397.70L395.00 267.25Z" fill="#000" stroke-width="0.5"/>
<path d="M401.60 271.00H407.00L404.30 266.00Z" fill="#000" stroke-width="0.5"/>
<line x1="421.90" y1="247.40" x2="443.10" y2="247.40" stroke-width="1.2"/>
<line x1="432.50" y1="246.20" x2="432.50" y2="248.60" stroke-width="1.2"/>
<line x1="426.60" y1="246.20" x2="438.40" y2="246.20" stroke-width="1.2"/>
<line x1="426.60" y1="248.60" x2="438.40" y2="248.60" stroke-width="1.2"/>
<path d="M429.80 192.75H435.20L432.50 197.75Z" fill="#000" stroke-width="0.5"/>
<path d="M429.80 210.00H435.20L432.50 215.00Z" fill="#000" stroke-width="0.5"/>
<path d="M425.40 240.25H430.80L428.10 245.25Z" fill="#000" stroke-width="0.5"/>
<path d="M434.20 240.25H439.60L436.90 245.25Z" fill="#000" stroke-width="0.5"/>
<path d="M429.80 242.50H435.20L432.50 247.50Z" fill="#000" stroke-width="0.5"/>
<path d="M425.40 251.50H430.80L428.10 256.50Z" fill="#000" stroke-width="0.5"/>
<path d="M429.80 250.85H435.20L432.50 255.85Z" fill="#000" stroke-width="0.5"/>
<path d="M434.20 250.25H439.60L436.90 255.25Z" fill="#000" stroke-width="0.5"/>
<path d="M427.30 255.25H432.70L430.00 260.25Z" fill="#000" stroke-width="0.5"/>
<path d="M432.30 255.25H437.70L435.00 260.25Z" fill="#000" stroke-width="0.5"/>
<path d="M425.40 259.00H430.80L428.10 264.00Z" fill="#000" stroke-width="0.5"/>
<path d="M434.20 259.65H439.60L436.90 264.65Z" fill="#000" stroke-width="0.5"/>
<path d="M429.80 262.75H435.20L432.50 267.75Z" fill="#000" stroke-width="0.5"/>
<line x1="454.75" y1="218.75" x2="475.75" y2="218.75" stroke-width="1.05"/>
<line x1="465.25" y1="210.60" x2="465.25" y2="226.60" stroke-width="1.55"/>
<line x1="459.35" y1="210.60" x2="471.15" y2="210.60" stroke-width="1.55"/>
<line x1="459.35" y1="226.60" x2="471.15" y2="226.60" stroke-width="1.55"/>
<path d="M462.35 168.75L465.25 165.85L468.15 168.75L465.25 171.65Z" fill="#000" stroke-width="0.4"/>
<path d="M462.35 186.25L465.25 183.35L468.15 186.25L465.25 189.15Z" fill="#000" stroke-width="0.4"/>
<path d="M462.35 195.00L465.25 192.10L468.15 195.00L465.25 197.90Z" fill="#000" stroke-width="0.4"/>
<path d="M457.75 211.00L460.65 208.10L463.55 211.00L460.65 213.90Z" fill="#000" stroke-width="0.4"/>
<path d="M467.05 212.50L469.95 209.60L472.85 212.50L469.95 215.40Z" fill="#000" stroke-width="0.4"/>
<path d="M462.35 215.60L465.25 212.70L468.15 215.60L465.25 218.50Z" fill="#000" stroke-width="0.4"/>
<path d="M462.35 230.25L465.25 227.35L468.15 230.25L465.25 233.15Z" fill="#000" stroke-width="0.4"/>
<path d="M457.75 244.40L460.65 241.50L463.55 244.40L460.65 247.30Z" fill="#000" stroke-width="0.4"/>
<path d="M467.05 243.75L469.95 240.85L472.85 243.75L469.95 246.65Z" fill="#000" stroke-width="0.4"/>
<path d="M457.75 250.00L460.65 247.10L463.55 250.00L460.65 252.90Z" fill="#000" stroke-width="0.4"/>
<path d="M467.05 247.25L469.95 244.35L472.85 247.25L469.95 250.15Z" fill="#000" stroke-width="0.4"/>
<line x1="487.50" y1="221.25" x2="508.70" y2="221.25" stroke-width="1.05"/>
<line x1="498.10" y1="206.25" x2="498.10" y2="236.25" stroke-width="1.55"/>
<line x1="492.30" y1="206.25" x2="503.90" y2="206.25" stroke-width="1.55"/>
<line x1="492.30" y1="236.25" x2="503.90" y2="236.25" stroke-width="1.55"/>
<circle cx="498.10" cy="111.25" r="2.9" fill="none" stroke-width="1.5"/>
<circle cx="498.10" cy="121.25" r="2.9" fill="none" stroke-width="1.5"/>
<circle cx="498.10" cy="155.00" r="2.9" fill="none" stroke-width="1.5"/>
<circle cx="498.10" cy="172.50" r="2.9" fill="none" stroke-width="1.5"/>
<circle cx="498.10" cy="238.30" r="2.9" fill="none" stroke-width="1.5"/>
<circle cx="498.10" cy="247.40" r="2.9" fill="none" stroke-width="1.5"/>
<circle cx="498.10" cy="251.40" r="2.9" fill="none" stroke-width="1.5"/>
<circle cx="496.80" cy="252.80" r="2.9" fill="none" stroke-width="1.5"/>
<circle cx="499.40" cy="252.80" r="2.9" fill="none" stroke-width="1.5"/>
<circle cx="498.10" cy="253.80" r="2.9" fill="none" stroke-width="1.5"/>
<circle cx="495.70" cy="254.60" r="2.9" fill="none" stroke-width="1.5"/>
<circle cx="500.50" cy="254.60" r="2.9" fill="none" stroke-width="1.5"/>
<circle cx="498.10" cy="255.40" r="2.9" fill="none" stroke-width="1.5"/>
<circle cx="496.70" cy="256.00" r="2.9" fill="none" stroke-width="1.5"/>
<circle cx="499.50" cy="256.00" r="2.9" fill="none" stroke-width="1.5"/>
<circle cx="493.10" cy="258.00" r="2.9" fill="none" stroke-width="1.5"/>
<circle cx="503.10" cy="258.30" r="2.9" fill="none" stroke-width="1.5"/>
<circle cx="498.10" cy="261.60" r="2.9" fill="none" stroke-width="1.5"/>
</g>
<g id="panelC">
<text transform="translate(1.20 407.80) scale(1.0400 1)" font-size="16.6" text-anchor="start" font-weight="normal" font-family='"Liberation Sans", sans-serif' stroke="#000" stroke-width="0.15" stroke-linejoin="round">C</text>
<line x1="53.35" y1="418.40" x2="53.35" y2="610.10" stroke-width="1.6"/>
<line x1="52.55" y1="609.30" x2="244.40" y2="609.30" stroke-width="1.6"/>
<line x1="50.15" y1="609.30" x2="53.35" y2="609.30" stroke-width="1.5"/>
<line x1="50.15" y1="561.75" x2="53.35" y2="561.75" stroke-width="1.5"/>
<line x1="50.15" y1="514.20" x2="53.35" y2="514.20" stroke-width="1.5"/>
<line x1="50.15" y1="466.65" x2="53.35" y2="466.65" stroke-width="1.5"/>
<line x1="50.15" y1="419.10" x2="53.35" y2="419.10" stroke-width="1.5"/>
<line x1="53.35" y1="609.30" x2="53.35" y2="612.70" stroke-width="1.5"/>
<line x1="91.43" y1="609.30" x2="91.43" y2="612.70" stroke-width="1.5"/>
<line x1="129.50" y1="609.30" x2="129.50" y2="612.70" stroke-width="1.5"/>
<line x1="167.58" y1="609.30" x2="167.58" y2="612.70" stroke-width="1.5"/>
<line x1="205.65" y1="609.30" x2="205.65" y2="612.70" stroke-width="1.5"/>
<line x1="243.72" y1="609.30" x2="243.72" y2="612.70" stroke-width="1.5"/>
<text transform="translate(50.00 612.50) scale(1.0700 1)" font-size="8.9" text-anchor="end" font-weight="bold" stroke="#000" stroke-width="0.4" stroke-linejoin="round">0</text>
<text transform="translate(50.00 564.95) scale(1.0700 1)" font-size="8.9" text-anchor="end" font-weight="bold" stroke="#000" stroke-width="0.4" stroke-linejoin="round">5</text>
<text transform="translate(50.00 517.40) scale(1.0700 1)" font-size="8.9" text-anchor="end" font-weight="bold" stroke="#000" stroke-width="0.4" stroke-linejoin="round">10</text>
<text transform="translate(50.00 469.85) scale(1.0700 1)" font-size="8.9" text-anchor="end" font-weight="bold" stroke="#000" stroke-width="0.4" stroke-linejoin="round">15</text>
<text transform="translate(50.00 422.30) scale(1.0700 1)" font-size="8.9" text-anchor="end" font-weight="bold" stroke="#000" stroke-width="0.4" stroke-linejoin="round">20</text>
<text transform="translate(53.55 622.20) scale(1.0700 1)" font-size="8.9" text-anchor="middle" font-weight="bold" stroke="#000" stroke-width="0.4" stroke-linejoin="round">0</text>
<text transform="translate(91.63 622.20) scale(1.0700 1)" font-size="8.9" text-anchor="middle" font-weight="bold" stroke="#000" stroke-width="0.4" stroke-linejoin="round">5</text>
<text transform="translate(129.70 622.20) scale(1.0700 1)" font-size="8.9" text-anchor="middle" font-weight="bold" stroke="#000" stroke-width="0.4" stroke-linejoin="round">10</text>
<text transform="translate(167.78 622.20) scale(1.0700 1)" font-size="8.9" text-anchor="middle" font-weight="bold" stroke="#000" stroke-width="0.4" stroke-linejoin="round">15</text>
<text transform="translate(205.85 622.20) scale(1.0700 1)" font-size="8.9" text-anchor="middle" font-weight="bold" stroke="#000" stroke-width="0.4" stroke-linejoin="round">20</text>
<text transform="translate(243.92 622.20) scale(1.0700 1)" font-size="8.9" text-anchor="middle" font-weight="bold" stroke="#000" stroke-width="0.4" stroke-linejoin="round">25</text>
<text transform="translate(0 414.10)" font-size="9.0" font-weight="bold" text-anchor="start" stroke="#000" stroke-width="0.2" stroke-linejoin="round"><tspan x="119.50" textLength="6.50" lengthAdjust="spacingAndGlyphs">P</tspan> <tspan x="129.40" textLength="36.00" lengthAdjust="spacingAndGlyphs">&lt;0.001</tspan></text>
<text transform="translate(0 425.40)" font-size="9.0" font-weight="bold" text-anchor="start" stroke="#000" stroke-width="0.2" stroke-linejoin="round"><tspan x="118.80" textLength="6.70" lengthAdjust="spacingAndGlyphs">R</tspan><tspan x="126.30" dy="-3.4" font-size="5.8" textLength="3.80" lengthAdjust="spacingAndGlyphs">2</tspan> <tspan x="133.60" dy="3.4" textLength="28.10" lengthAdjust="spacingAndGlyphs">=0.23</tspan></text>
<text transform="translate(8.40 578.00) rotate(-90)" font-size="8.3" font-weight="bold" text-anchor="start" stroke="#000" stroke-width="0.3" stroke-linejoin="round"><tspan x="0.00" textLength="10.00" lengthAdjust="spacingAndGlyphs">24</tspan> <tspan x="13.50" textLength="40.80" lengthAdjust="spacingAndGlyphs">months</tspan> <tspan x="58.40" textLength="75.70" lengthAdjust="spacingAndGlyphs">post-transplant</tspan></text>
<text transform="translate(19.40 609.00) rotate(-90)" font-size="8.3" font-weight="bold" text-anchor="start" stroke="#000" stroke-width="0.3" stroke-linejoin="round"><tspan x="0.00" textLength="44.80" lengthAdjust="spacingAndGlyphs">PFR-MCA</tspan> <tspan x="48.20" textLength="45.00" lengthAdjust="spacingAndGlyphs">hydrolysis</tspan> <tspan x="97.20" textLength="97.50" lengthAdjust="spacingAndGlyphs">(fmol/min/pmol)</tspan></text>
<text transform="translate(0 644.90)" font-size="8.3" font-weight="bold" text-anchor="start" stroke="#000" stroke-width="0.3" stroke-linejoin="round"><tspan x="112.80" textLength="71.90" lengthAdjust="spacingAndGlyphs">Pre-transplant</tspan></text>
<text transform="translate(0 656.00)" font-size="8.3" font-weight="bold" text-anchor="start" stroke="#000" stroke-width="0.3" stroke-linejoin="round"><tspan x="50.80" textLength="45.20" lengthAdjust="spacingAndGlyphs">PFR-MCA</tspan> <tspan x="100.40" textLength="51.60" lengthAdjust="spacingAndGlyphs">hydrolysis</tspan> <tspan x="155.40" textLength="90.00" lengthAdjust="spacingAndGlyphs">(fmol/min/pmol)</tspan></text>
<line x1="57.50" y1="582.90" x2="225.00" y2="500.75" stroke-width="1.5"/>
<circle cx="115.00" cy="441.75" r="2.85" fill="none" stroke-width="1.0"/>
<circle cx="75.00" cy="476.75" r="2.85" fill="none" stroke-width="1.0"/>
<circle cx="72.00" cy="489.50" r="2.85" fill="none" stroke-width="1.0"/>
<circle cx="184.25" cy="465.50" r="2.85" fill="none" stroke-width="1.0"/>
<circle cx="120.00" cy="531.75" r="2.85" fill="none" stroke-width="1.0"/>
<circle cx="125.00" cy="533.25" r="2.85" fill="none" stroke-width="1.0"/>
<circle cx="224.50" cy="529.00" r="2.85" fill="none" stroke-width="1.0"/>
<circle cx="169.25" cy="530.00" r="2.85" fill="none" stroke-width="1.0"/>
<circle cx="165.00" cy="557.25" r="2.85" fill="none" stroke-width="1.0"/>
<circle cx="139.25" cy="588.00" r="2.85" fill="none" stroke-width="1.0"/>
<circle cx="121.75" cy="571.75" r="2.85" fill="none" stroke-width="1.0"/>
<circle cx="117.00" cy="596.25" r="2.85" fill="none" stroke-width="1.0"/>
<circle cx="81.90" cy="532.90" r="2.85" fill="none" stroke-width="1.0"/>
<circle cx="99.00" cy="546.60" r="2.85" fill="none" stroke-width="1.0"/>
<circle cx="76.50" cy="553.75" r="2.85" fill="none" stroke-width="1.0"/>
<circle cx="94.40" cy="558.10" r="2.85" fill="none" stroke-width="1.0"/>
<circle cx="93.10" cy="561.90" r="2.85" fill="none" stroke-width="1.0"/>
<circle cx="75.25" cy="565.60" r="2.85" fill="none" stroke-width="1.0"/>
<circle cx="75.60" cy="570.60" r="2.85" fill="none" stroke-width="1.0"/>
<circle cx="79.40" cy="569.75" r="2.85" fill="none" stroke-width="1.0"/>
<circle cx="69.00" cy="573.75" r="2.85" fill="none" stroke-width="1.0"/>
<circle cx="86.50" cy="574.60" r="2.85" fill="none" stroke-width="1.0"/>
<circle cx="100.60" cy="578.40" r="2.85" fill="none" stroke-width="1.0"/>
<circle cx="97.90" cy="582.50" r="2.85" fill="none" stroke-width="1.0"/>
<circle cx="70.00" cy="580.00" r="2.85" fill="none" stroke-width="1.0"/>
<circle cx="74.40" cy="581.50" r="2.85" fill="none" stroke-width="1.0"/>
<circle cx="85.25" cy="581.90" r="2.85" fill="none" stroke-width="1.0"/>
<circle cx="86.00" cy="583.75" r="2.85" fill="none" stroke-width="1.0"/>
<circle cx="86.90" cy="585.60" r="2.85" fill="none" stroke-width="1.0"/>
<circle cx="65.00" cy="583.75" r="2.85" fill="none" stroke-width="1.0"/>
<circle cx="58.75" cy="587.50" r="2.85" fill="none" stroke-width="1.0"/>
<circle cx="56.90" cy="590.60" r="2.85" fill="none" stroke-width="1.0"/>
<circle cx="66.25" cy="590.00" r="2.85" fill="none" stroke-width="1.0"/>
<circle cx="70.60" cy="588.10" r="2.85" fill="none" stroke-width="1.0"/>
<circle cx="75.00" cy="588.10" r="2.85" fill="none" stroke-width="1.0"/>
<circle cx="74.40" cy="591.25" r="2.85" fill="none" stroke-width="1.0"/>
<circle cx="81.90" cy="592.25" r="2.85" fill="none" stroke-width="1.0"/>
<circle cx="61.25" cy="593.10" r="2.85" fill="none" stroke-width="1.0"/>
<circle cx="69.40" cy="595.00" r="2.85" fill="none" stroke-width="1.0"/>
<circle cx="65.00" cy="596.25" r="2.85" fill="none" stroke-width="1.0"/>
<circle cx="66.00" cy="600.40" r="2.85" fill="none" stroke-width="1.0"/>
<circle cx="64.80" cy="600.90" r="2.85" fill="none" stroke-width="1.0"/>
<circle cx="72.50" cy="585.00" r="2.85" fill="none" stroke-width="1.0"/>
<circle cx="62.50" cy="589.50" r="2.85" fill="none" stroke-width="1.0"/>
</g>
<g id="panelD">
<text transform="translate(271.20 407.80) scale(1.0400 1)" font-size="16.6" text-anchor="start" font-weight="normal" font-family='"Liberation Sans", sans-serif' stroke="#000" stroke-width="0.15" stroke-linejoin="round">D</text>
<line x1="317.20" y1="419.40" x2="317.20" y2="611.90" stroke-width="1.5"/>
<line x1="316.15" y1="611.10" x2="507.60" y2="611.10" stroke-width="1.7"/>
<line x1="313.40" y1="611.10" x2="317.00" y2="611.10" stroke-width="1.5"/>
<line x1="313.40" y1="572.91" x2="317.00" y2="572.91" stroke-width="1.5"/>
<line x1="313.40" y1="534.72" x2="317.00" y2="534.72" stroke-width="1.5"/>
<line x1="313.40" y1="496.53" x2="317.00" y2="496.53" stroke-width="1.5"/>
<line x1="313.40" y1="458.34" x2="317.00" y2="458.34" stroke-width="1.5"/>
<line x1="313.40" y1="420.15" x2="317.00" y2="420.15" stroke-width="1.5"/>
<line x1="340.75" y1="611.10" x2="340.75" y2="614.60" stroke-width="1.5"/>
<line x1="388.50" y1="611.10" x2="388.50" y2="614.60" stroke-width="1.5"/>
<line x1="436.50" y1="611.10" x2="436.50" y2="614.60" stroke-width="1.5"/>
<line x1="484.25" y1="611.10" x2="484.25" y2="614.60" stroke-width="1.5"/>
<text transform="translate(313.30 614.50) scale(1.0700 1)" font-size="8.8" text-anchor="end" font-weight="bold" stroke="#000" stroke-width="0.4" stroke-linejoin="round">0</text>
<text transform="translate(313.30 576.31) scale(1.0700 1)" font-size="8.8" text-anchor="end" font-weight="bold" stroke="#000" stroke-width="0.4" stroke-linejoin="round">5</text>
<text transform="translate(313.30 538.12) scale(1.0700 1)" font-size="8.8" text-anchor="end" font-weight="bold" stroke="#000" stroke-width="0.4" stroke-linejoin="round">10</text>
<text transform="translate(313.30 499.93) scale(1.0700 1)" font-size="8.8" text-anchor="end" font-weight="bold" stroke="#000" stroke-width="0.4" stroke-linejoin="round">15</text>
<text transform="translate(313.30 461.74) scale(1.0700 1)" font-size="8.8" text-anchor="end" font-weight="bold" stroke="#000" stroke-width="0.4" stroke-linejoin="round">20</text>
<text transform="translate(313.30 423.55) scale(1.0700 1)" font-size="8.8" text-anchor="end" font-weight="bold" stroke="#000" stroke-width="0.4" stroke-linejoin="round">25</text>
<text transform="translate(340.75 624.70) scale(1.0700 1)" font-size="8.8" text-anchor="middle" font-weight="bold" stroke="#000" stroke-width="0.4" stroke-linejoin="round">0</text>
<text transform="translate(388.50 624.70) scale(1.0700 1)" font-size="8.8" text-anchor="middle" font-weight="bold" stroke="#000" stroke-width="0.4" stroke-linejoin="round">3</text>
<text transform="translate(436.50 624.70) scale(1.0700 1)" font-size="8.8" text-anchor="middle" font-weight="bold" stroke="#000" stroke-width="0.4" stroke-linejoin="round">12</text>
<text transform="translate(484.25 624.70) scale(1.0700 1)" font-size="8.8" text-anchor="middle" font-weight="bold" stroke="#000" stroke-width="0.4" stroke-linejoin="round">24</text>
<text transform="translate(412.80 646.80) scale(1.0600 1)" font-size="8.8" text-anchor="middle" font-weight="bold" stroke="#000" stroke-width="0.2" stroke-linejoin="round">Time (months)</text>
<text transform="translate(279.10 512.80) rotate(-90) scale(1.0906 1)" font-size="8.4" text-anchor="middle" font-weight="bold" stroke="#000" stroke-width="0.2" stroke-linejoin="round">Mean PFR-MCA hydrolysis</text>
<text transform="translate(290.40 512.60) rotate(-90) scale(1.2463 1)" font-size="8.4" text-anchor="middle" font-weight="bold" stroke="#000" stroke-width="0.2" stroke-linejoin="round">(fmol/min/pmol)</text>
<text transform="translate(354.30 424.90) scale(1.0524 1)" font-size="7.7" text-anchor="middle" font-weight="bold" stroke="#000" stroke-width="0.4" stroke-linejoin="round">P&lt;0.0001</text>
<text transform="translate(497.30 520.80) scale(1.0524 1)" font-size="7.7" text-anchor="middle" font-weight="bold" stroke="#000" stroke-width="0.4" stroke-linejoin="round">P&lt;0.0004</text>
<text transform="translate(444.10 557.80) scale(1.0549 1)" font-size="7.7" text-anchor="middle" font-weight="bold" stroke="#000" stroke-width="0.4" stroke-linejoin="round">P=0.03</text>
<line x1="398.00" y1="436.80" x2="410.60" y2="436.80" stroke-width="1.7"/>
<circle cx="404.30" cy="436.80" r="2.8" fill="#000" stroke-width="0.5"/>
<text transform="translate(415.60 440.10) scale(1.0139 1)" font-size="8.9" text-anchor="start" font-weight="bold" stroke="#000" stroke-width="0.2" stroke-linejoin="round">Upper quartile</text>
<line x1="398.00" y1="450.50" x2="410.60" y2="450.50" stroke-width="1.7"/>
<rect x="401.60" y="447.80" width="5.4" height="5.4" fill="#000" stroke-width="0.4"/>
<text transform="translate(415.60 453.80) scale(1.0241 1)" font-size="8.9" text-anchor="start" font-weight="bold" stroke="#000" stroke-width="0.2" stroke-linejoin="round">Remaining</text>
<line x1="340.75" y1="490.75" x2="340.75" y2="429.30" stroke-width="1.7"/>
<line x1="336.75" y1="429.30" x2="344.75" y2="429.30" stroke-width="1.7"/>
<line x1="388.50" y1="593.60" x2="388.50" y2="579.60" stroke-width="1.7"/>
<line x1="384.50" y1="579.60" x2="392.50" y2="579.60" stroke-width="1.7"/>
<line x1="388.50" y1="593.60" x2="388.50" y2="605.00" stroke-width="1.7"/>
<line x1="384.50" y1="605.00" x2="392.50" y2="605.00" stroke-width="1.7"/>
<line x1="436.50" y1="581.75" x2="436.50" y2="562.00" stroke-width="1.7"/>
<line x1="432.50" y1="562.00" x2="440.50" y2="562.00" stroke-width="1.7"/>
<line x1="484.25" y1="554.25" x2="484.25" y2="525.00" stroke-width="1.7"/>
<line x1="480.25" y1="525.00" x2="488.25" y2="525.00" stroke-width="1.7"/>
<line x1="340.75" y1="590.75" x2="340.75" y2="598.80" stroke-width="1.7"/>
<line x1="336.75" y1="598.80" x2="344.75" y2="598.80" stroke-width="1.7"/>
<line x1="436.50" y1="590.00" x2="436.50" y2="610.60" stroke-width="1.7"/>
<line x1="432.50" y1="610.60" x2="440.50" y2="610.60" stroke-width="1.7"/>
<line x1="484.25" y1="584.50" x2="484.25" y2="608.30" stroke-width="1.7"/>
<line x1="480.25" y1="608.30" x2="488.25" y2="608.30" stroke-width="1.7"/>
<polyline points="340.75,490.75 388.50,593.60 436.50,581.90 484.25,554.25" fill="none" stroke="#000" stroke-width="1.75"/>
<polyline points="340.75,590.90 388.50,590.90 436.50,589.80 484.25,584.40" fill="none" stroke="#000" stroke-width="1.75"/>
<circle cx="340.75" cy="490.75" r="3.0" fill="#000" stroke-width="0.5"/>
<circle cx="388.50" cy="593.60" r="3.0" fill="#000" stroke-width="0.5"/>
<circle cx="436.50" cy="581.90" r="3.0" fill="#000" stroke-width="0.5"/>
<circle cx="484.25" cy="554.25" r="3.0" fill="#000" stroke-width="0.5"/>
<rect x="337.80" y="587.95" width="5.9" height="5.9" fill="#000" stroke-width="0.4"/>
<rect x="385.55" y="587.95" width="5.9" height="5.9" fill="#000" stroke-width="0.4"/>
<rect x="433.55" y="586.85" width="5.9" height="5.9" fill="#000" stroke-width="0.4"/>
<rect x="481.30" y="581.45" width="5.9" height="5.9" fill="#000" stroke-width="0.4"/>
</g>
</svg>
</body>
</html>
